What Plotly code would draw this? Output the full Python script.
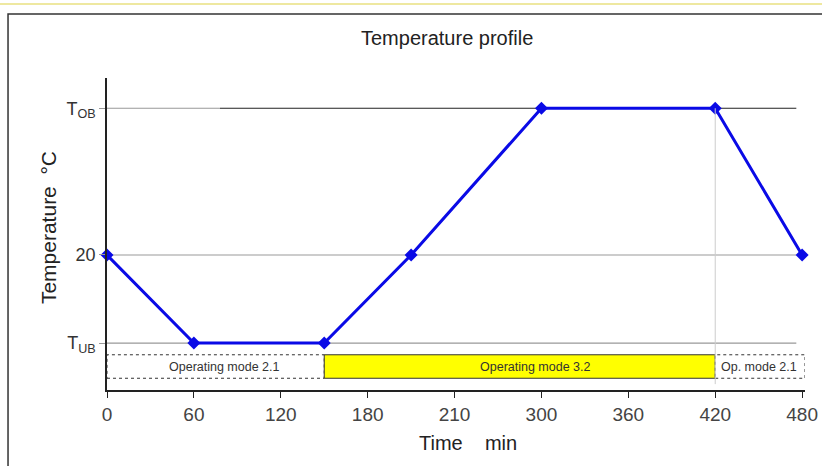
import plotly.graph_objects as go

# Data
time_min = [0, 60, 150, 210, 300, 420, 480]
temp = [20, -10, -10, 20, 70, 70, 20]

x_tick_vals = [0, 60, 120, 180, 240, 300, 360, 420, 480]
x_tick_text = ["0", "60", "120", "180", "210", "300", "360", "420", "480"]
y_tick_vals = [-10, 20, 70]
y_tick_text = ["T<sub>UB</sub>", "20", "T<sub>OB</sub>"]

modes = ["Operating mode 2.1", "Operating mode 3.2", "Op. mode 2.1"]
mode_start = [0, 150, 420]
mode_end = [150, 420, 482]
mode_label_x = [81, 296, 450]
mode_fill = ["white", "#ffff00", "white"]
mode_dash = ["dot", "solid", "dot"]

T_UB, T_20, T_OB = -10, 20, 70
BAR_LO, BAR_HI = -22, -14

fig = go.Figure()

shapes = []
# reference lines
shapes.append(dict(type="line", xref="x", yref="y", x0=0, x1=78, y0=T_OB, y1=T_OB,
                   line=dict(color="#999999", width=1.2), layer="below"))
shapes.append(dict(type="line", xref="x", yref="y", x0=78, x1=476, y0=T_OB, y1=T_OB,
                   line=dict(color="#222222", width=1.2), layer="below"))
shapes.append(dict(type="line", xref="x", yref="y", x0=0, x1=476, y0=T_20, y1=T_20,
                   line=dict(color="#999999", width=1.2), layer="below"))
shapes.append(dict(type="line", xref="x", yref="y", x0=0, x1=476, y0=T_UB, y1=T_UB,
                   line=dict(color="#999999", width=1.2), layer="below"))
shapes.append(dict(type="line", xref="x", yref="y", x0=420, x1=420, y0=T_OB, y1=-24,
                   line=dict(color="#cccccc", width=1), layer="above"))
# mode bars
for s, e, f, d in zip(mode_start, mode_end, mode_fill, mode_dash):
    shapes.append(dict(type="rect", xref="x", yref="y", x0=s, x1=e, y0=BAR_LO, y1=BAR_HI,
                       fillcolor=f, line=dict(color="#333333", width=1, dash=d), layer="below"))
# outer frame
shapes.append(dict(type="rect", xref="paper", yref="paper", x0=-0.1418, x1=1.1, y0=-0.4, y1=1.205,
                   line=dict(color="#333333", width=1.5), fillcolor="rgba(0,0,0,0)"))
shapes.append(dict(type="line", xref="paper", yref="paper", x0=-0.2, x1=1.1, y0=1.237, y1=1.237,
                   line=dict(color="#eee8a0", width=2)))

fig.add_trace(go.Scatter(
    x=time_min, y=temp, mode="lines+markers",
    line=dict(color="#0a0ae6", width=3),
    marker=dict(symbol="diamond", size=10, color="#0a0ae6"),
    cliponaxis=False, showlegend=False, hoverinfo="skip",
))

annotations = []
for name, lx in zip(modes, mode_label_x):
    annotations.append(dict(x=lx, y=(BAR_LO + BAR_HI) / 2, xref="x", yref="y",
                            text=name, showarrow=False, font=dict(size=12.5, color="#333333")))
annotations.append(dict(x=0.487, y=1.128, xref="paper", yref="paper", text="Temperature profile",
                        xanchor="center", yanchor="middle",
                        showarrow=False, font=dict(size=20, color="#222222")))
annotations.append(dict(x=-0.0845, y=0.519, xref="paper", yref="paper", text="Temperature  °C",
                        xanchor="center", yanchor="middle",
                        textangle=-90, showarrow=False, font=dict(size=21, color="#222222")))
annotations.append(dict(x=0.517, y=-0.17, xref="paper", yref="paper", text="Time    min",
                        xanchor="center", yanchor="middle",
                        showarrow=False, font=dict(size=20, color="#222222")))

fig.update_layout(
    width=822, height=466,
    margin=dict(l=107, r=17, t=78, b=76),
    paper_bgcolor="white", plot_bgcolor="white",
    font=dict(family="Liberation Sans, Arial, sans-serif", size=14, color="#333333"),
    shapes=shapes, annotations=annotations,
    xaxis=dict(range=[0, 482], tickvals=x_tick_vals, ticktext=x_tick_text, automargin=False,
               showgrid=False, zeroline=False, showline=True, linecolor="#222222", linewidth=1.5,
               ticks="outside", ticklen=6, tickcolor="#222222", tickfont=dict(size=19, color="#444444")),
    yaxis=dict(range=[-26, 80.3], tickvals=y_tick_vals, ticktext=y_tick_text, automargin=False,
               showgrid=False, zeroline=False, showline=True, linecolor="#222222", linewidth=1.5,
               ticks="outside", ticklen=6, tickcolor="#999999", tickfont=dict(size=18, color="#333333")),
)

fig.write_html("out.html", config={"displayModeBar": False},
               post_script="document.body.style.margin='0';")
